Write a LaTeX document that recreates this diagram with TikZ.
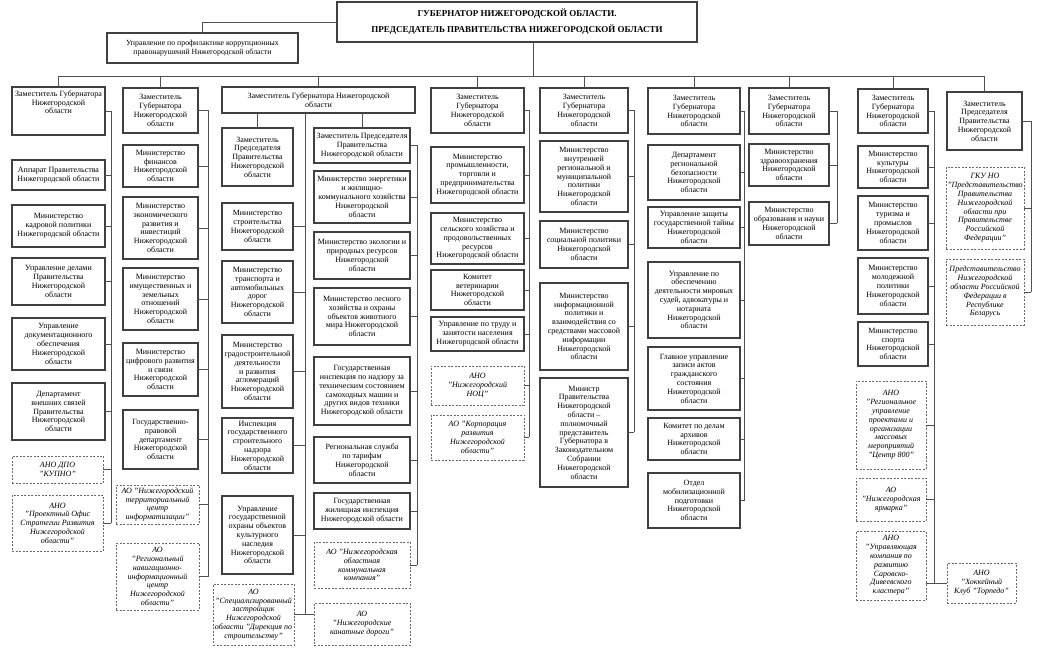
\documentclass[tikz,border=0pt]{standalone}
\usepackage{fontspec}
\setmainfont{Liberation Serif}
\definecolor{boxc}{HTML}{404040}
\definecolor{dashc}{HTML}{6A6A6A}
\definecolor{linec}{HTML}{505050}
\newcommand{\boxfont}{\fontsize{8}{8.8}\selectfont}
\tikzset{
  sbox/.style={draw=boxc, line width=1.1pt, fill=white, inner sep=1pt, outer sep=0pt, align=center, font=\boxfont},
  dbox/.style={draw=dashc, line width=0.8pt, dash pattern=on 2pt off 1.5pt, fill=white, inner sep=1pt, outer sep=0pt, align=center, font=\boxfont\itshape},
  conn/.style={draw=linec, line width=0.8pt}
}
\newcommand{\bx}[7]{\node[#1, minimum width={(#5-#3)*1pt}, minimum height={(#6-#4)*1pt}] (#2) at ({(#3+#5)/2},{(#4+#6)/2}) {#7};}
\newcommand{\tobus}[2]{\draw[conn] (#1.east) -- (#1.east -| #2);}
\begin{document}
\begin{tikzpicture}[x=1pt,y=-1pt]
\fill[white] (0,0) rectangle (1037,652);
\useasboundingbox (0,0) rectangle (1037,652);

% governor
\node[draw=boxc, line width=1.1pt, inner sep=0pt, outer sep=0pt, align=center,
  minimum width=360pt, minimum height=40pt, font=\fontsize{9}{16}\selectfont\bfseries] (gov) at (517,22)
  {ГУБЕРНАТОР НИЖЕГОРОДСКОЙ ОБЛАСТИ.\\ПРЕДСЕДАТЕЛЬ ПРАВИТЕЛЬСТВА НИЖЕГОРОДСКОЙ ОБЛАСТИ};
\node[draw=boxc, line width=1.1pt, inner sep=0pt, outer sep=0pt, align=center,
  minimum width=191pt, minimum height=30pt, font=\fontsize{7.8}{9.5}\selectfont] (anti) at (202.5,48)
  {Управление по профилактике коррупционных\\правонарушений Нижегородской области};
\draw[conn] (anti.north) |- (gov.west);

\coordinate (busL) at (59,76);
\coordinate (busR) at (984,76);
\coordinate (gdrop) at (533,76);
\draw[conn] (gov.south -| gdrop) -- (gdrop);
\draw[conn] (busL) -- (busR);

% ---------- column 1
\coordinate (b1) at (111,0);
\bx{sbox}{c1t}{12}{87}{105}{135}{Заместитель Губернатора\\Нижегородской\\области\\~\\~}
\bx{sbox}{c1a}{12}{160}{105}{190}{Аппарат Правительства\\Нижегородской области}
\bx{sbox}{c1b}{12}{205}{105}{247}{Министерство\\кадровой политики\\Нижегородской области}
\bx{sbox}{c1c}{12}{258}{105}{305}{Управление делами\\Правительства\\Нижегородской\\области}
\bx{sbox}{c1d}{12}{318}{105}{370}{Управление\\документационного\\обеспечения\\Нижегородской\\области}
\bx{sbox}{c1e}{12}{383}{105}{440}{Департамент\\внешних связей\\Правительства\\Нижегородской\\области}
\bx{dbox}{c1f}{12}{456}{103}{483}{АНО ДПО\\"КУПНО"}
\bx{dbox}{c1g}{12}{495}{103}{551}{АНО\\"Проектный Офис\\Стратегии Развития\\Нижегородской\\области"}
\draw[conn] (c1t.north) -- (c1t.north |- busL);
\draw[conn] (c1t.east -| b1) -- (c1g.east -| b1);
\foreach \n in {c1t,c1a,c1b,c1c,c1d,c1e,c1f,c1g} {\tobus{\n}{b1}}

% ---------- column 2
\coordinate (b2) at (208,0);
\bx{sbox}{c2t}{123}{88}{198}{133}{Заместитель\\Губернатора\\Нижегородской\\области}
\bx{sbox}{c2a}{123}{145}{198}{187}{Министерство\\финансов\\Нижегородской\\области}
\bx{sbox}{c2b}{123}{197}{198}{259}{Министерство\\экономического\\развития и\\инвестиций\\Нижегородской\\области}
\bx{sbox}{c2c}{123}{268}{198}{330}{Министерство\\имущественных и\\земельных\\отношений\\Нижегородской\\области}
\bx{sbox}{c2d}{123}{343}{198}{396}{Министерство\\цифрового развития\\и связи\\Нижегородской\\области}
\bx{sbox}{c2e}{123}{410}{198}{469}{Государственно-\\правовой\\департамент\\Нижегородской\\области}
\bx{dbox}{c2f}{116}{485}{199}{524}{АО "Нижегородский\\территориальный\\центр\\информатизации"}
\bx{dbox}{c2g}{116}{543}{199}{610}{АО\\"Региональный\\навигационно-\\информационный\\центр\\Нижегородской\\области"}
\draw[conn] (c2t.north) -- (c2t.north |- busL);
\draw[conn] (c2t.east -| b2) -- (c2g.east -| b2);
\foreach \n in {c2t,c2a,c2b,c2c,c2d,c2e,c2f,c2g} {\tobus{\n}{b2}}

% ---------- column 3
\coordinate (c3m) at (305,0);
\coordinate (c3b) at (417,0);
\bx{sbox}{c3t}{222}{87}{415}{113}{Заместитель Губернатора Нижегородской\\области}
\bx{sbox}{c3L1}{222}{128}{293}{186}{Заместитель\\Председателя\\Правительства\\Нижегородской\\области}
\bx{sbox}{c3L2}{222}{203}{293}{250}{Министерство\\строительства\\Нижегородской\\области}
\bx{sbox}{c3L3}{222}{261}{293}{323}{Министерство\\транспорта и\\автомобильных\\дорог\\Нижегородской\\области}
\bx{sbox}{c3L4}{222}{335}{293}{408}{Министерство\\градостроительной\\деятельности\\и развития\\агломераций\\Нижегородской\\области}
\bx{sbox}{c3L5}{222}{418}{293}{473}{Инспекция\\государственного\\строительного\\надзора\\Нижегородской\\области}
\bx{sbox}{c3L6}{222}{496}{293}{574}{Управление\\государственной\\охраны объектов\\культурного\\наследия\\Нижегородской\\области}
\bx{dbox}{c3L7}{213}{584}{294}{645}{АО\\"Специализированный\\застройщик\\Нижегородской\\области "Дирекция по\\строительству"}
\bx{sbox}{c3R1}{314}{128}{410}{163}{Заместитель Председателя\\Правительства\\Нижегородской области}
\bx{sbox}{c3R2}{314}{171}{410}{223}{Министерство энергетики\\и жилищно-\\коммунального хозяйства\\Нижегородской\\области}
\bx{sbox}{c3R3}{314}{232}{410}{279}{Министерство экологии и\\природных ресурсов\\Нижегородской\\области}
\bx{sbox}{c3R4}{314}{288}{410}{345}{Министерство лесного\\хозяйства и охраны\\объектов животного\\мира Нижегородской\\области}
\bx{sbox}{c3R5}{314}{357}{410}{425}{Государственная\\инспекция по надзору за\\техническим состоянием\\самоходных машин и\\других видов техники\\Нижегородской области}
\bx{sbox}{c3R6}{314}{437}{410}{483}{Региональная служба\\по тарифам\\Нижегородской\\области}
\bx{sbox}{c3R7}{314}{493}{410}{529}{Государственная\\жилищная инспекция\\Нижегородской области}
\bx{dbox}{c3R8}{314}{542}{410}{588}{АО "Нижегородская\\областная\\коммунальная\\компания"}
\bx{dbox}{c3R9}{314}{603}{410}{645}{АО\\"Нижегородские\\канатные дороги"}
\draw[conn] (c3t.north) -- (c3t.north |- busL);
\draw[conn] (c3L1.north) -- (c3L1.north |- c3t.south);
\draw[conn] (c3R1.north) -- (c3R1.north |- c3t.south);
\draw[conn] (c3t.south -| c3m) -- (c3L7.east -| c3m);
\foreach \n in {c3L2,c3L3,c3L4,c3L5,c3L6} {\tobus{\n}{c3m}}
\draw[conn] (c3L7.east) -- (c3L7.east -| c3R9.west);
\draw[conn] (c3R1.east -| c3b) -- (c3R8.east -| c3b);
\foreach \n in {c3R1,c3R2,c3R3,c3R4,c3R5,c3R6,c3R7,c3R8} {\tobus{\n}{c3b}}

% ---------- column 4
\coordinate (b4) at (529,0);
\bx{sbox}{c4t}{431}{88}{524}{133}{Заместитель\\Губернатора\\Нижегородской\\области}
\bx{sbox}{c4a}{431}{147}{524}{203}{Министерство\\промышленности,\\торговли и\\предпринимательства\\Нижегородской области}
\bx{sbox}{c4b}{431}{213}{524}{264}{Министерство\\сельского хозяйства и\\продовольственных\\ресурсов\\Нижегородской области}
\bx{sbox}{c4c}{431}{270}{524}{310}{Комитет\\ветеринарии\\Нижегородской\\области}
\bx{sbox}{c4d}{431}{317}{524}{351}{Управление по труду и\\занятости населения\\Нижегородской области}
\bx{dbox}{c4e}{431}{366}{524}{405}{АНО\\"Нижегородский\\НОЦ"}
\bx{dbox}{c4f}{431}{415}{524}{460}{АО "Корпорация\\развития\\Нижегородской\\области"}
\draw[conn] (c4t.north) -- (c4t.north |- busL);
\draw[conn] (c4t.east -| b4) -- (c4f.east -| b4);
\foreach \n in {c4t,c4a,c4b,c4c,c4d,c4e,c4f} {\tobus{\n}{b4}}

% ---------- column 5
\coordinate (b5) at (634,0);
\bx{sbox}{c5t}{540}{88}{628}{133}{Заместитель\\Губернатора\\Нижегородской\\области}
\bx{sbox}{c5a}{540}{141}{628}{212}{Министерство\\внутренней\\региональной и\\муниципальной\\политики\\Нижегородской\\области}
\bx{sbox}{c5b}{540}{221}{628}{268}{Министерство\\социальной политики\\Нижегородской\\области}
\bx{sbox}{c5c}{540}{283}{628}{370}{Министерство\\информационной\\политики и\\взаимодействия со\\средствами массовой\\информации\\Нижегородской\\области}
\bx{sbox}{c5d}{540}{378}{628}{487}{Министр\\Правительства\\Нижегородской\\области –\\полномочный\\представитель\\Губернатора в\\Законодательном\\Собрании\\Нижегородской\\области}
\draw[conn] (c5t.north) -- (c5t.north |- busL);
\draw[conn] (c5t.east -| b5) -- (c5d.east -| b5);
\foreach \n in {c5t,c5a,c5b,c5c,c5d} {\tobus{\n}{b5}}

% ---------- column 6
\coordinate (b6) at (744,0);
\bx{sbox}{c6t}{648}{88}{740}{134}{Заместитель\\Губернатора\\Нижегородской\\области}
\bx{sbox}{c6a}{648}{145}{740}{200}{Департамент\\региональной\\безопасности\\Нижегородской\\области}
\bx{sbox}{c6b}{648}{207}{740}{248}{Управление защиты\\государственной тайны\\Нижегородской\\области}
\bx{sbox}{c6c}{648}{262}{740}{338}{Управление по\\обеспечению\\деятельности мировых\\судей, адвокатуры и\\нотариата\\Нижегородской\\области}
\bx{sbox}{c6d}{648}{347}{740}{410}{Главное управление\\записи актов\\гражданского\\состояния\\Нижегородской\\области}
\bx{sbox}{c6e}{648}{418}{740}{460}{Комитет по делам\\архивов\\Нижегородской\\области}
\bx{sbox}{c6f}{648}{473}{740}{528}{Отдел\\мобилизационной\\подготовки\\Нижегородской\\области}
\draw[conn] (c6t.north) -- (c6t.north |- busL);
\draw[conn] (c6t.east -| b6) -- (c6f.east -| b6);
\foreach \n in {c6t,c6a,c6b,c6c,c6d,c6e,c6f} {\tobus{\n}{b6}}

% ---------- column 7
\coordinate (b7) at (837,0);
\bx{sbox}{c7t}{749}{88}{829}{134}{Заместитель\\Губернатора\\Нижегородской\\области}
\bx{sbox}{c7a}{749}{144}{829}{186}{Министерство\\здравоохранения\\Нижегородской\\области}
\bx{sbox}{c7b}{749}{202}{829}{245}{Министерство\\образования и науки\\Нижегородской\\области}
\draw[conn] (c7t.north) -- (c7t.north |- busL);
\draw[conn] (c7t.east -| b7) -- (c7b.east -| b7);
\foreach \n in {c7t,c7a,c7b} {\tobus{\n}{b7}}

% ---------- column 8
\coordinate (b8) at (934,0);
\bx{sbox}{c8t}{858}{89}{928}{133}{Заместитель\\Губернатора\\Нижегородской\\области}
\bx{sbox}{c8a}{858}{146}{928}{188}{Министерство\\культуры\\Нижегородской\\области}
\bx{sbox}{c8b}{858}{196}{928}{250}{Министерство\\туризма и\\промыслов\\Нижегородской\\области}
\bx{sbox}{c8c}{858}{258}{928}{314}{Министерство\\молодежной\\политики\\Нижегородской\\области}
\bx{sbox}{c8d}{858}{322}{928}{366}{Министерство\\спорта\\Нижегородской\\области}
\bx{dbox}{c8e}{856}{381}{926}{469}{АНО\\"Региональное\\управление\\проектами и\\организации\\массовых\\мероприятий\\"Центр 800"}
\bx{dbox}{c8f}{856}{478}{926}{521}{АО\\"Нижегородская\\ярмарка"}
\bx{dbox}{c8g}{856}{531}{926}{600}{АНО\\"Управляющая\\компания по\\развитию\\Саровско-\\Дивеевского\\кластера"}
\bx{dbox}{hock}{947}{563}{1016}{603}{АНО\\"Хоккейный\\Клуб "Торпедо"}
\draw[conn] (c8t.north) -- (c8t.north |- busL);
\draw[conn] (c8t.east -| b8) -- (hock.west -| b8);
\foreach \n in {c8t,c8a,c8b,c8c,c8d,c8e,c8f} {\tobus{\n}{b8}}
\draw[conn] (c8g.east |- hock.west) -- (hock.west);

% ---------- column 9
\coordinate (b9) at (1031,0);
\bx{sbox}{c9t}{947}{92}{1022}{150}{Заместитель\\Председателя\\Правительства\\Нижегородской\\области}
\bx{dbox}{c9a}{946}{167}{1024}{249}{ГКУ НО\\"Представительство\\Правительства\\Нижегородской\\области при\\Правительстве\\Российской\\Федерации"}
\bx{dbox}{c9b}{946}{259}{1024}{325}{Представительство\\Нижегородской\\области Российской\\Федерации в\\Республике\\Беларусь}
\draw[conn] (c9t.north) -- (c9t.north |- busR);
\draw[conn] (c9t.east -| b9) -- (c9b.east -| b9);
\foreach \n in {c9t,c9a,c9b} {\tobus{\n}{b9}}
\end{tikzpicture}
\end{document}
